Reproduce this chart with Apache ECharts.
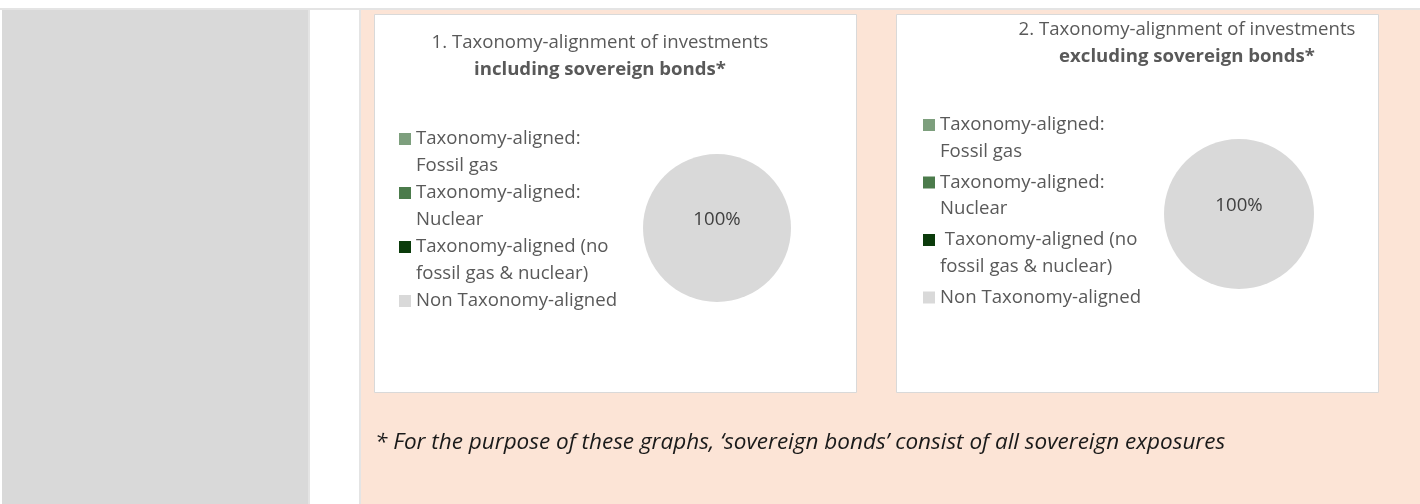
<!DOCTYPE html>
<html><head><meta charset="utf-8">
<script src="https://cdn.jsdelivr.net/npm/echarts@6/dist/echarts.min.js"></script>
<style>html,body{margin:0;padding:0;background:#fff}#c{width:1420px;height:504px}</style>
</head><body><div id="c"></div>
<script>
// ---- data ----
const categories = ['Taxonomy-aligned: Fossil gas', 'Taxonomy-aligned: Nuclear', 'Taxonomy-aligned (no fossil gas & nuclear)', 'Non Taxonomy-aligned'];
const valuesIncl = [0, 0, 0, 100];
const valuesExcl = [0, 0, 0, 100];
const sliceColors = ['#7d9f7d', '#4b7b4b', '#0b3b0b', '#d9d9d9'];
const titleIncl = ['1. Taxonomy-alignment of investments', 'including sovereign bonds*'];
const titleExcl = ['2. Taxonomy-alignment of investments', 'excluding sovereign bonds*'];
const legendLinesIncl = [['Taxonomy-aligned:', 'Fossil gas'], ['Taxonomy-aligned:', 'Nuclear'], ['Taxonomy-aligned (no', 'fossil gas & nuclear)'], ['Non Taxonomy-aligned']];
const legendLinesExcl = [['Taxonomy-aligned:', 'Fossil gas'], ['Taxonomy-aligned:', 'Nuclear'], [' Taxonomy-aligned (no', 'fossil gas & nuclear)'], ['Non Taxonomy-aligned']];
const footnote = '* For the purpose of these graphs, \u2018sovereign bonds\u2019 consist of all sovereign exposures';

// ---- style ----
const FONT = "'Open Sans', sans-serif";
const FS = 18.6;
const LH = 26.5;
const TXT = '#595959';

function legendText(lines) {
  return ' \n' + lines[0] + '\n' + (lines[1] || ' ');
}
function makeLegend(lines, left, firstCenter, spacing) {
  const map = {};
  categories.forEach((c, i) => { map[c] = legendText(lines[i]); });
  return {
    orient: 'vertical', left: left, top: firstCenter - 1.5 * LH,
    padding: 0, itemWidth: 12, itemHeight: 12, itemGap: spacing - 3 * LH,
    icon: 'rect', selectedMode: false,
    data: categories.slice(),
    formatter: n => map[n],
    textStyle: { fontFamily: FONT, fontSize: FS, color: TXT, lineHeight: LH }
  };
}
function makePie(values, center, r) {
  return {
    type: 'pie', center: center, radius: r, startAngle: 90, clockwise: true,
    silent: true, emphasis: { disabled: true },
    data: categories.map((c, i) => ({ name: c, value: values[i], itemStyle: { color: sliceColors[i] } })),
    itemStyle: { borderWidth: 0 },
    labelLine: { show: false },
    label: {
      show: true, position: 'center', fontFamily: FONT, fontSize: FS, color: '#404040',
      lineHeight: 16,
      formatter: p => p.value > 0 ? Math.round(p.percent) + '%\n ' : ''
    }
  };
}
function titleGraphic(lines, x, y, lh) {
  return {
    type: 'text', x: x, y: y, z: 10,
    style: {
      text: '{n|' + lines[0] + '}\n{b|' + lines[1] + '}',
      align: 'center', verticalAlign: 'top',
      rich: {
        n: { fontFamily: FONT, fontSize: FS, fill: TXT, lineHeight: lh, align: 'center' },
        b: { fontFamily: FONT, fontSize: FS, fontWeight: 'bold', fill: TXT, lineHeight: lh, align: 'center' }
      }
    }
  };
}

const chart = echarts.init(document.getElementById('c'), null, { renderer: 'canvas' });
chart.setOption({
  backgroundColor: '#ffffff',
  animation: false,
  graphic: [
    { type: 'rect', z: -10, shape: { x: 0, y: 8, width: 1420, height: 2 }, style: { fill: '#e4e4e4' } },
    { type: 'rect', z: -10, shape: { x: 2, y: 10, width: 306, height: 494 }, style: { fill: '#d9d9d9' } },
    { type: 'rect', z: -10, shape: { x: 308, y: 10, width: 2, height: 494 }, style: { fill: '#e4e4e4' } },
    { type: 'rect', z: -10, shape: { x: 359, y: 10, width: 2, height: 494 }, style: { fill: '#e4e4e4' } },
    { type: 'rect', z: -10, shape: { x: 361, y: 10, width: 1059, height: 494 }, style: { fill: '#fce4d6' } },
    { type: 'rect', z: -9, shape: { x: 374.5, y: 14.5, width: 482, height: 378 }, style: { fill: '#ffffff', stroke: '#d9d9d9', lineWidth: 1 } },
    { type: 'rect', z: -9, shape: { x: 896.5, y: 14.5, width: 482, height: 378 }, style: { fill: '#ffffff', stroke: '#d9d9d9', lineWidth: 1 } },
    titleGraphic(titleIncl, 600, 29.5, 27),
    titleGraphic(titleExcl, 1187, 16.5, 27),
    { type: 'text', x: 375, y: 443, z: 10,
      style: { text: footnote, fontFamily: FONT, fontSize: 22.5, fontStyle: 'italic', fill: '#1a1a1a', verticalAlign: 'middle' } }
  ],
  legend: [
    makeLegend(legendLinesIncl, 399, 139, 54),
    makeLegend(legendLinesExcl, 923, 125, 57.5)
  ],
  series: [
    makePie(valuesIncl, [717, 228], 74),
    makePie(valuesExcl, [1239, 214], 75)
  ]
});
</script></body></html>
